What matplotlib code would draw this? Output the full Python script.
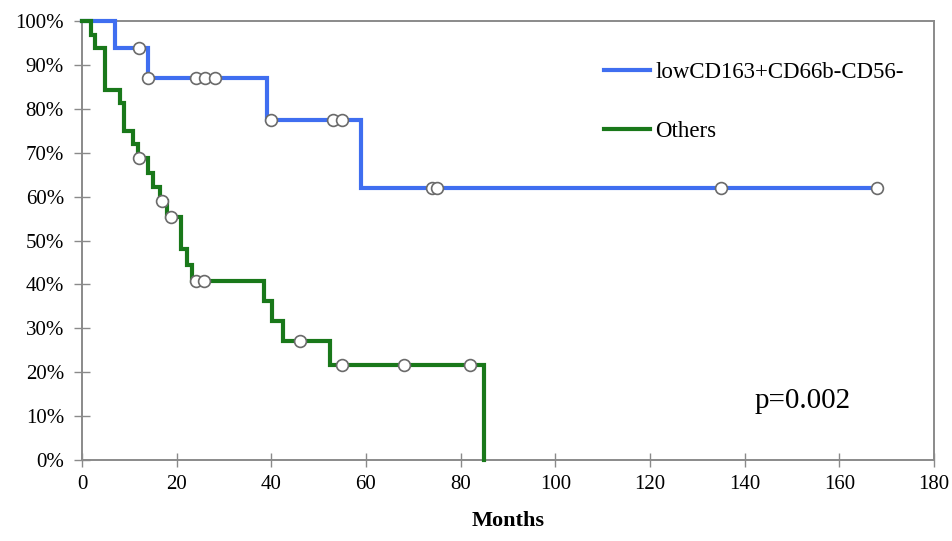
import numpy as np
import matplotlib
matplotlib.use("Agg")
import matplotlib.pyplot as plt
from matplotlib.lines import Line2D

plt.rcParams['font.family'] = ['Liberation Serif', 'DejaVu Serif']

# ---- data ----
series_names = ["lowCD163+CD66b-CD56-", "Others"]

blue_times = [0, 7, 14, 39, 59, 168]
blue_surv = [1.0, 0.9375, 0.8705, 0.7738, 0.619, 0.619]
blue_censor = [12, 14, 24, 26, 28, 40, 53, 55, 74, 75, 135, 168]

green_times = [0, 1.8, 2.8, 4.9, 8.0, 8.8, 10.8, 11.9, 14.0, 15.0, 16.5,
               17.9, 21.0, 22.1, 23.2, 38.4, 40.1, 42.5, 52.4, 85.0]
green_surv = [1.0, 0.96875, 0.9375, 0.84375, 0.8125, 0.75, 0.71875, 0.6875,
              0.6548, 0.6220, 0.5893, 0.5546, 0.4807, 0.4437, 0.4067,
              0.3615, 0.3163, 0.2711, 0.2169, 0.0]
green_censor = [12, 16.8, 18.7, 24, 25.7, 46, 55, 68, 82]

x_ticks = [0, 20, 40, 60, 80, 100, 120, 140, 160, 180]
y_ticks = [0.0, 0.1, 0.2, 0.3, 0.4, 0.5, 0.6, 0.7, 0.8, 0.9, 1.0]
y_tick_labels = ["0%", "10%", "20%", "30%", "40%", "50%", "60%", "70%",
                 "80%", "90%", "100%"]
x_label = "Months"
p_text = "p=0.002"

blue_col = "#3f6ef0"
green_col = "#19781a"


def level_at(times, surv, t):
    idx = np.searchsorted(np.asarray(times), t, side="right") - 1
    return np.asarray(surv)[idx]


fig = plt.figure(figsize=(9.53, 5.41), dpi=100)
ax = fig.add_axes([82 / 953, 1 - 460 / 541, (934 - 82) / 953, (460 - 21) / 541])

ax.step(blue_times, blue_surv, where="post", color=blue_col, lw=3.0,
        clip_on=False, zorder=3, solid_joinstyle="miter")
ax.step(green_times, green_surv, where="post", color=green_col, lw=3.0,
        clip_on=False, zorder=3, solid_joinstyle="miter")

ax.plot(blue_censor, level_at(blue_times, blue_surv, blue_censor), "o",
        ms=8.5, mfc="white", mec="#6a6a6a", mew=1.2, clip_on=False, zorder=4)
ax.plot(green_censor, level_at(green_times, green_surv, green_censor), "o",
        ms=8.5, mfc="white", mec="#6a6a6a", mew=1.2, clip_on=False, zorder=4)

ax.set_xlim(0, 180)
ax.set_ylim(0, 1)
ax.set_xticks(x_ticks)
ax.set_xticklabels([str(v) for v in x_ticks])
ax.set_yticks(y_ticks)
ax.set_yticklabels(y_tick_labels)

for s in ax.spines.values():
    s.set_color("#8a8a8a")
    s.set_linewidth(1.4)

ax.tick_params(axis="x", direction="inout", length=10, width=1.0,
               color="#8a8a8a", labelsize=15, pad=6)
ax.tick_params(axis="y", direction="inout", length=12, width=1.0,
               color="#8a8a8a", labelsize=15, pad=7)

ax.set_xlabel(x_label, fontsize=16, fontweight="bold", labelpad=12)

handles = [Line2D([0], [0], color=blue_col, lw=3.0),
           Line2D([0], [0], color=green_col, lw=3.0)]
fig.legend(handles, series_names, loc="upper left",
           bbox_to_anchor=(604 / 953, 1 - 62 / 541), frameon=False,
           fontsize=16.5, handlelength=2.0, handletextpad=0.25,
           labelspacing=1.65, borderpad=0, borderaxespad=0)

ax.text(803 / 953, 1 - 401 / 541, p_text, transform=fig.transFigure,
        fontsize=21, ha="center", va="center")

fig.savefig("out.png", dpi=100)
